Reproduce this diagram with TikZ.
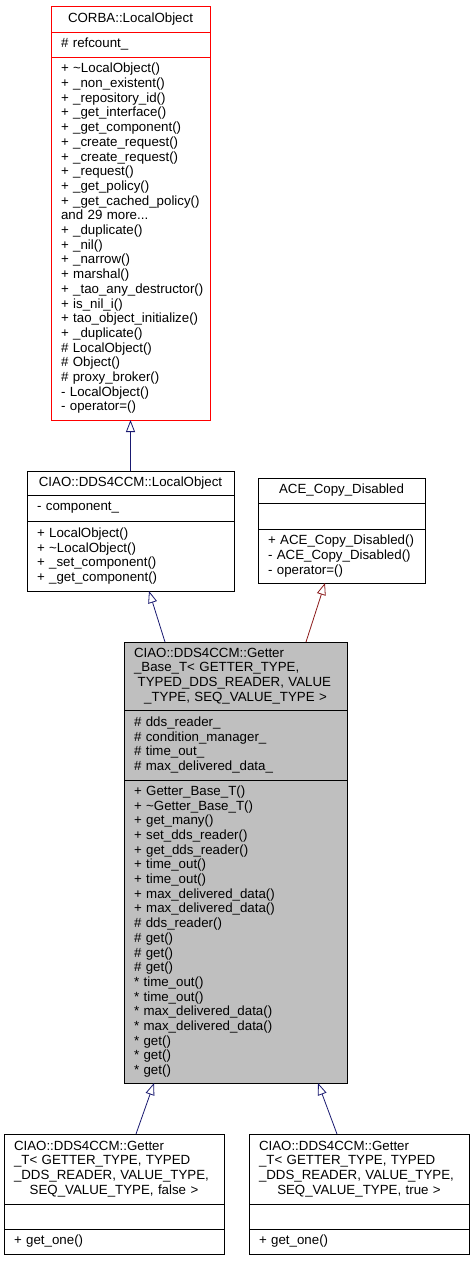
\documentclass[tikz,border=0pt]{standalone}
\usepackage{fontspec}
\setmainfont{Liberation Sans}
\usetikzlibrary{arrows.meta}
\definecolor{edgeblue}{HTML}{191970}
\definecolor{edgered}{HTML}{8B1A1A}
\definecolor{hlgray}{HTML}{BFBFBF}
\newcommand\umlfont{\fontsize{13.3bp}{14.7bp}\selectfont}
\tikzset{
  part/.style={draw, anchor=north, outer sep=0pt, inner xsep=10bp, inner ysep=0pt,
    line width=0.8bp, font=\umlfont, align=left},
  inh/.style={-{Triangle[open, length=12bp, width=9bp]}, line width=0.8bp},
}
\begin{document}
\begin{tikzpicture}[x=1bp, y=-1bp]
      \useasboundingbox (0,0) rectangle (473,1261);
      \node[part, anchor=north west, draw=red, text width=139bp, minimum height=26bp, align=center] (corbaName) at (51,6) {CORBA::LocalObject};
      \node[part, draw=red, text width=139bp, minimum height=25bp] (corbaAttr) at (corbaName.south) {\# refcount\_};
      \node[part, draw=red, text width=139bp, minimum height=363bp] (corbaOps) at (corbaAttr.south) {+ \textasciitilde LocalObject()\\ + \_non\_existent()\\ + \_repository\_id()\\ + \_get\_interface()\\ + \_get\_component()\\ + \_create\_request()\\ + \_create\_request()\\ + \_request()\\ + \_get\_policy()\\ + \_get\_cached\_policy()\\ and 29 more...\\ + \_duplicate()\\ + \_nil()\\ + \_narrow()\\ + marshal()\\ \mbox{+ \_tao\_any\_destructor()}\\ + is\_nil\_i()\\ \mbox{+ tao\_object\_initialize()}\\ + \_duplicate()\\ \# LocalObject()\\ \# Object()\\ \# proxy\_broker()\\ - LocalObject()\\ - operator=()};
      \node[part, anchor=north west, text width=187bp, minimum height=24bp, align=center] (ciaoName) at (27,471) {CIAO::DDS4CCM::LocalObject};
      \node[part, text width=187bp, minimum height=26bp] (ciaoAttr) at (ciaoName.south) {- component\_};
      \node[part, text width=187bp, minimum height=70bp] (ciaoOps) at (ciaoAttr.south) {+ LocalObject()\\ + \textasciitilde LocalObject()\\ + \_set\_component()\\ + \_get\_component()};
      \node[part, anchor=north west, text width=147bp, minimum height=25bp, align=center] (aceName) at (258,478) {ACE\_Copy\_Disabled};
      \node[part, text width=147bp, minimum height=26bp] (aceAttr) at (aceName.south) {};
      \node[part, text width=147bp, minimum height=54bp] (aceOps) at (aceAttr.south) {+ ACE\_Copy\_Disabled()\\ - ACE\_Copy\_Disabled()\\ - operator=()};
      \node[part, anchor=north west, fill=hlgray, text width=203bp, minimum height=68bp] (getName) at (124,642) {CIAO::DDS4CCM::Getter\\ \_Base\_T< GETTER\_TYPE,\\ \mbox{\hspace*{3.7bp}TYPED\_DDS\_READER, VALUE}\\ \makebox[\linewidth]{\_TYPE, SEQ\_VALUE\_TYPE >}};
      \node[part, fill=hlgray, text width=203bp, minimum height=70bp] (getAttr) at (getName.south) {\# dds\_reader\_\\ \# condition\_manager\_\\ \# time\_out\_\\ \# max\_delivered\_data\_};
      \node[part, fill=hlgray, text width=203bp, minimum height=303bp] (getOps) at (getAttr.south) {+ Getter\_Base\_T()\\ + \textasciitilde Getter\_Base\_T()\\ + get\_many()\\ + set\_dds\_reader()\\ + get\_dds\_reader()\\ + time\_out()\\ + time\_out()\\ + max\_delivered\_data()\\ + max\_delivered\_data()\\ \# dds\_reader()\\ \# get()\\ \# get()\\ \# get()\\ {*} time\_out()\\ {*} time\_out()\\ {*} max\_delivered\_data()\\ {*} max\_delivered\_data()\\ {*} get()\\ {*} get()\\ {*} get()};
      \node[part, anchor=north west, text width=200bp, minimum height=70bp] (falseName) at (4,1134) {CIAO::DDS4CCM::Getter\\ \_T< GETTER\_TYPE, TYPED\\ \mbox{\_DDS\_READER, VALUE\_TYPE,}\\ \makebox[\linewidth]{SEQ\_VALUE\_TYPE, false >}};
      \node[part, text width=200bp, minimum height=25bp] (falseAttr) at (falseName.south) {};
      \node[part, text width=200bp, minimum height=25bp] (falseOps) at (falseAttr.south) {+ get\_one()};
      \node[part, anchor=north west, text width=200bp, minimum height=70bp] (trueName) at (249,1134) {CIAO::DDS4CCM::Getter\\ \_T< GETTER\_TYPE, TYPED\\ \mbox{\_DDS\_READER, VALUE\_TYPE,}\\ \makebox[\linewidth]{SEQ\_VALUE\_TYPE, true >}};
      \node[part, text width=200bp, minimum height=25bp] (trueAttr) at (trueName.south) {};
      \node[part, text width=200bp, minimum height=25bp] (trueOps) at (trueAttr.south) {+ get\_one()};
      \draw[inh, draw=edgeblue] (ciaoName.north) to (corbaOps.south);
      \draw[inh, draw=edgeblue] ([xshift=41bp]getName.north west) to ([xshift=122bp]ciaoOps.south west);
      \draw[inh, draw=edgered] ([xshift=182bp]getName.north west) to ([xshift=67bp]aceOps.south west);
      \draw[inh, draw=edgeblue] ([xshift=132bp]falseName.north west) to ([xshift=30bp]getOps.south west);
      \draw[inh, draw=edgeblue] ([xshift=88bp]trueName.north west) to ([xshift=194bp]getOps.south west);
    \end{tikzpicture}
\end{document}
